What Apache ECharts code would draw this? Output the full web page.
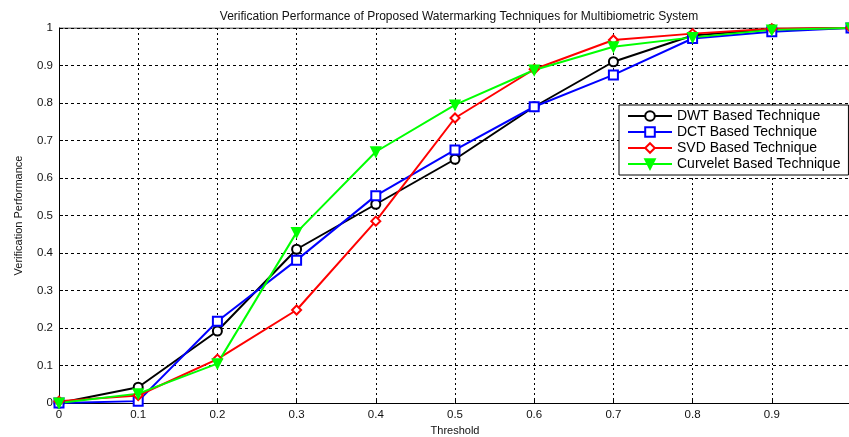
<!DOCTYPE html>
<html>
<head>
<meta charset="utf-8">
<script src="https://cdn.jsdelivr.net/npm/echarts@6/dist/echarts.min.js"></script>
<style>
  html, body { margin: 0; padding: 0; background: #fff; }
  #chart { width: 849px; height: 437px; }
</style>
</head>
<body>
<div id="chart"></div>
<script>
// threshold values
const thresholds = [0, 0.1, 0.2, 0.3, 0.4, 0.5, 0.6, 0.7, 0.8, 0.9, 1.0];

const dwt = [0, 0.042, 0.192, 0.41, 0.53, 0.65, 0.79, 0.91, 0.98, 0.997, 1];
const dct = [0, 0.005, 0.218, 0.381, 0.553, 0.675, 0.79, 0.875, 0.972, 0.99, 1];
const svd = [0.005, 0.02, 0.117, 0.248, 0.485, 0.76, 0.89, 0.968, 0.985, 0.998, 1];
const curvelet = [0, 0.025, 0.105, 0.455, 0.67, 0.795, 0.888, 0.95, 0.975, 0.995, 1];

const font = 'Liberation Sans, Arial, sans-serif';

function pairs(vals) {
  return thresholds.map((t, i) => [t, vals[i]]);
}

function makeSeries(name, vals, color, symbol, rotate) {
  return {
    name: name,
    type: 'line',
    data: pairs(vals),
    symbol: symbol,
    symbolSize: 9,
    symbolRotate: rotate || 0,
    showAllSymbol: true,
    lineStyle: { color: color, width: 2 },
    itemStyle: { color: color, borderColor: color, borderWidth: 2 },
    emphasis: { disabled: true },
    z: 3
  };
}

const chart = echarts.init(document.getElementById('chart'));
chart.setOption({
  animation: false,
  backgroundColor: '#fff',
  title: {
    text: 'Verification Performance of Proposed Watermarking Techniques for Multibiometric System',
    left: 454,
    textAlign: 'center',
    top: 6,
    textStyle: { fontFamily: font, fontSize: 12, fontWeight: 'normal', color: '#111' }
  },
  grid: { left: 59, width: 792, top: 28, height: 375, outerBoundsMode: 'none', containLabel: false, show: false },
  legend: {
    orient: 'vertical',
    left: 619,
    top: 105,
    width: 229,
    itemWidth: 44,
    itemHeight: 12,
    itemGap: 0,
    padding: [3, 8, 3, 8],
    backgroundColor: '#fff',
    borderColor: '#000',
    borderWidth: 1,
    textStyle: { fontFamily: font, fontSize: 14, lineHeight: 16, color: '#000' },
    data: ['DWT Based Technique', 'DCT Based Technique', 'SVD Based Technique', 'Curvelet Based Technique']
  },
  xAxis: {
    type: 'value',
    min: 0,
    max: 1,
    interval: 0.1,
    name: 'Threshold',
    nameLocation: 'middle',
    nameGap: 22,
    nameTextStyle: { fontFamily: font, fontSize: 11, color: '#111' },
    axisLine: { onZero: false, lineStyle: { color: '#000', width: 1 } },
    axisTick: { inside: true, length: 4, lineStyle: { color: '#000' } },
    axisLabel: {
      fontFamily: font, fontSize: 11.5, color: '#111', margin: 6,
      formatter: v => (Math.abs(v - 1) < 1e-9 ? '' : String(Math.round(v * 10) / 10))
    },
    splitLine: { show: true, lineStyle: { color: '#000', type: [2, 3], width: 1 } }
  },
  yAxis: {
    type: 'value',
    min: 0,
    max: 1,
    interval: 0.1,
    name: 'Verification Performance',
    nameLocation: 'middle',
    nameGap: 35,
    nameTextStyle: { fontFamily: font, fontSize: 11, color: '#111' },
    axisLine: { show: true, lineStyle: { color: '#000', width: 1 } },
    axisTick: { inside: true, length: 4, lineStyle: { color: '#000' } },
    axisLabel: {
      fontFamily: font, fontSize: 11.5, color: '#111', margin: 6,
      formatter: v => String(Math.round(v * 10) / 10)
    },
    splitLine: { show: true, lineStyle: { color: '#000', type: [3, 3], width: 1 } }
  },
  series: [
    makeSeries('DWT Based Technique', dwt, '#000000', 'emptyCircle'),
    makeSeries('DCT Based Technique', dct, '#0000ff', 'emptyRect'),
    makeSeries('SVD Based Technique', svd, '#ff0000', 'emptyDiamond'),
    makeSeries('Curvelet Based Technique', curvelet, '#00ff00', 'triangle', 180),
    {
      // top border of the plot box
      type: 'line',
      data: [[0, 1], [1, 1]],
      symbol: 'none',
      silent: true,
      lineStyle: { color: '#000', width: 1 },
      z: 1
    }
  ]
});
</script>
</body>
</html>
